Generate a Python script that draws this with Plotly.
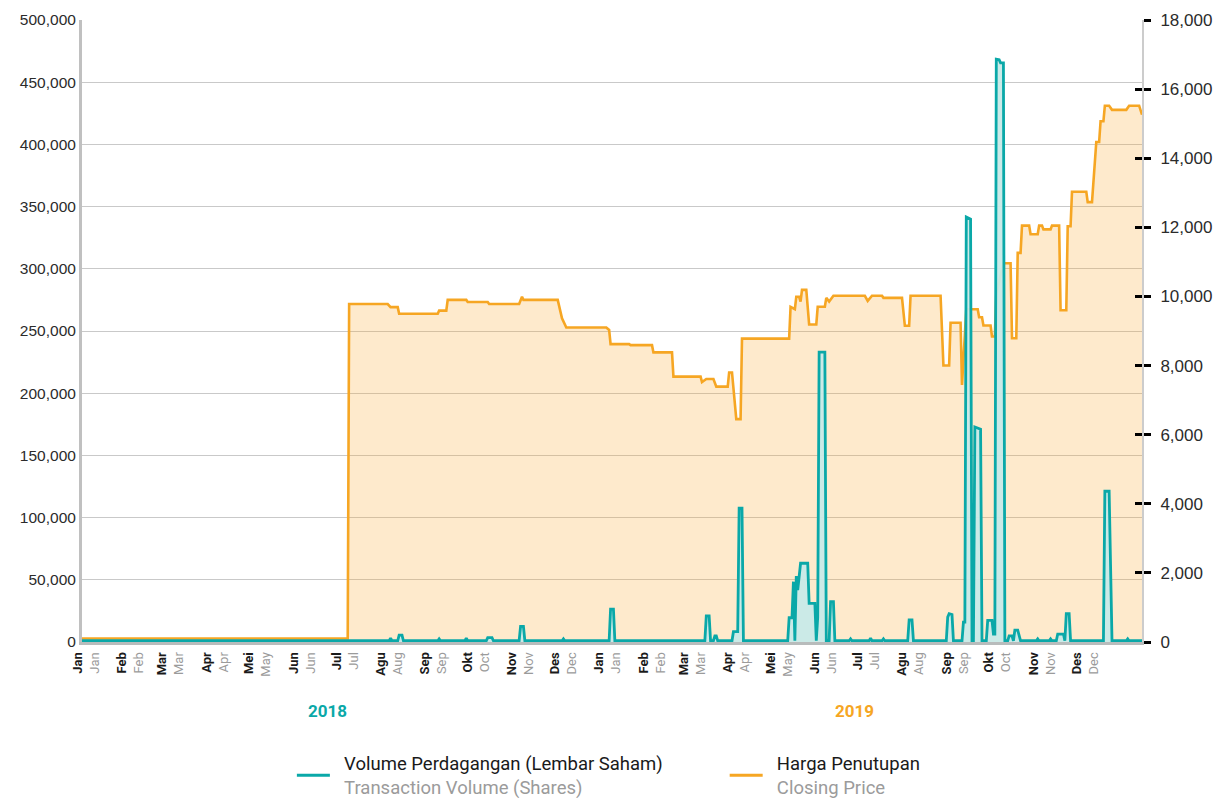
import plotly.graph_objects as go

# ---------------- data ----------------
price_dates = [
    "2017-12-29", "2018-07-03", "2018-07-04", "2018-07-31", "2018-08-02", "2018-08-07",
    "2018-08-08", "2018-09-04", "2018-09-05", "2018-09-10", "2018-09-11", "2018-09-24",
    "2018-09-25", "2018-10-09", "2018-10-10", "2018-10-31", "2018-11-02", "2018-11-03",
    "2018-11-27", "2018-11-30", "2018-12-03", "2018-12-31", "2019-01-02", "2019-01-03",
    "2019-01-16", "2019-01-17", "2019-02-01", "2019-02-02", "2019-02-15", "2019-02-16",
    "2019-03-07", "2019-03-08", "2019-03-11", "2019-03-16", "2019-03-18", "2019-03-26",
    "2019-03-27", "2019-03-29", "2019-04-01", "2019-04-04", "2019-04-05", "2019-05-08",
    "2019-05-09", "2019-05-12", "2019-05-13", "2019-05-15", "2019-05-16", "2019-05-17",
    "2019-05-20", "2019-05-22", "2019-05-27", "2019-05-28", "2019-06-02", "2019-06-03",
    "2019-06-05", "2019-06-08", "2019-06-30", "2019-07-02", "2019-07-05", "2019-07-12",
    "2019-07-13", "2019-07-26", "2019-07-28", "2019-07-31", "2019-08-01", "2019-08-22",
    "2019-08-24", "2019-08-28", "2019-08-29", "2019-09-05", "2019-09-06", "2019-09-09",
    "2019-09-17", "2019-09-18", "2019-09-20", "2019-09-21", "2019-09-26", "2019-09-27",
    "2019-09-29", "2019-09-30", "2019-10-05", "2019-10-10", "2019-10-11", "2019-10-14",
    "2019-10-15", "2019-10-17", "2019-10-18", "2019-10-23", "2019-10-24", "2019-10-29",
    "2019-10-30", "2019-11-01", "2019-11-02", "2019-11-07", "2019-11-08", "2019-11-13",
    "2019-11-14", "2019-11-18", "2019-11-19", "2019-11-21", "2019-11-22", "2019-12-02",
    "2019-12-03", "2019-12-06", "2019-12-09", "2019-12-11", "2019-12-12", "2019-12-14",
    "2019-12-15", "2019-12-18", "2019-12-20", "2019-12-30", "2020-01-01", "2020-01-08",
    "2020-01-10",
]
price_values = [
    100, 100, 9780, 9780, 9690, 9690,
    9500, 9500, 9590, 9590, 9900, 9900,
    9840, 9840, 9780, 9780, 9990, 9900,
    9900, 9370, 9100, 9100, 9030, 8620,
    8620, 8590, 8590, 8380, 8380, 7680,
    7680, 7520, 7610, 7610, 7390, 7390,
    7800, 7800, 6450, 6450, 8780, 8780,
    9700, 9630, 9990, 9990, 9850, 10190,
    10190, 9190, 9190, 9700, 9700, 9960,
    9850, 10020, 10020, 9870, 10020, 10020,
    9960, 9960, 9150, 9150, 10020, 10020,
    8000, 8000, 9240, 9240, 7440, 9630,
    9630, 9400, 9400, 9160, 9160, 8840,
    8840, 10080, 10960, 10960, 8790, 8790,
    11260, 11260, 12050, 12050, 11800, 11800,
    12050, 12050, 11940, 11940, 12050, 12050,
    9600, 9600, 12030, 12030, 13030, 13030,
    12730, 12730, 14470, 14470, 15070, 15070,
    15520, 15520, 15400, 15400, 15520, 15520,
    15260,
]

volume_dates = [
    "2017-12-29", "2018-08-01", "2018-08-02", "2018-08-03", "2018-08-07", "2018-08-08",
    "2018-08-10", "2018-08-11", "2018-09-04", "2018-09-05", "2018-09-06", "2018-09-23",
    "2018-09-24", "2018-09-25", "2018-10-08", "2018-10-09", "2018-10-12", "2018-10-13",
    "2018-10-31", "2018-11-01", "2018-11-03", "2018-11-04", "2018-11-30", "2018-12-01",
    "2018-12-02", "2019-01-02", "2019-01-03", "2019-01-05", "2019-01-06", "2019-03-10",
    "2019-03-11", "2019-03-13", "2019-03-14", "2019-03-16", "2019-03-17", "2019-03-18",
    "2019-03-19", "2019-03-29", "2019-03-30", "2019-04-02", "2019-04-03", "2019-04-05",
    "2019-04-06", "2019-05-07", "2019-05-08", "2019-05-10", "2019-05-11", "2019-05-12",
    "2019-05-13", "2019-05-14", "2019-05-16", "2019-05-21", "2019-05-22", "2019-05-26",
    "2019-05-27", "2019-05-28", "2019-05-29", "2019-06-02", "2019-06-03", "2019-06-05",
    "2019-06-06", "2019-06-08", "2019-06-09", "2019-06-19", "2019-06-20", "2019-06-21",
    "2019-07-03", "2019-07-04", "2019-07-05", "2019-07-12", "2019-07-13", "2019-07-14",
    "2019-07-30", "2019-07-31", "2019-08-02", "2019-08-03", "2019-08-26", "2019-08-27",
    "2019-08-28", "2019-08-30", "2019-08-31", "2019-09-06", "2019-09-07", "2019-09-08",
    "2019-09-09", "2019-09-12", "2019-09-13", "2019-09-14", "2019-09-15", "2019-09-17",
    "2019-09-19", "2019-09-20", "2019-09-23", "2019-09-24", "2019-09-27", "2019-09-28",
    "2019-09-29", "2019-09-30", "2019-10-02", "2019-10-03", "2019-10-05", "2019-10-06",
    "2019-10-08", "2019-10-09", "2019-10-11", "2019-10-12", "2019-10-13", "2019-10-15",
    "2019-10-16", "2019-10-17", "2019-10-28", "2019-10-29", "2019-10-30", "2019-11-06",
    "2019-11-07", "2019-11-08", "2019-11-11", "2019-11-12", "2019-11-16", "2019-11-17",
    "2019-11-18", "2019-11-20", "2019-11-21", "2019-12-14", "2019-12-15", "2019-12-18",
    "2019-12-20", "2019-12-30", "2019-12-31", "2020-01-01", "2020-01-10",
]
volume_values = [
    1000, 1000, 3000, 1000, 1000, 5500,
    5500, 1000, 1000, 2500, 1000, 1000,
    3000, 1000, 1000, 3500, 3500, 1000,
    1000, 12500, 12500, 1000, 1000, 2500,
    1000, 1000, 26500, 26500, 1000, 1000,
    21000, 21000, 1000, 1000, 5000, 5000,
    1000, 1000, 8300, 8300, 107500, 107500,
    1000, 1000, 19500, 19500, 48500, 1000,
    53000, 41800, 63300, 63300, 31100, 31100,
    1000, 20000, 233000, 233000, 1000, 1000,
    32400, 32400, 1000, 1000, 2500, 1000,
    1000, 3000, 1000, 1000, 2500, 1000,
    1000, 17700, 17700, 1000, 1000, 20000,
    22700, 22000, 1000, 1000, 16000, 16000,
    341700, 340000, 1000, 1000, 172800, 172000,
    171000, 1000, 1000, 17400, 17400, 6400,
    6400, 468500, 468000, 465500, 465500, 1000,
    1000, 5000, 5000, 1000, 9600, 9600,
    4000, 1000, 1000, 2500, 1000, 1000,
    2500, 1000, 1000, 6400, 6400, 1000,
    22700, 22700, 1000, 1000, 121200, 121200,
    1000, 1000, 2500, 1000, 1000,
]

month_ticks = [
    "2018-01-01", "2018-02-01", "2018-03-01", "2018-04-01", "2018-05-01", "2018-06-01",
    "2018-07-01", "2018-08-01", "2018-09-01", "2018-10-01", "2018-11-01", "2018-12-01",
    "2019-01-01", "2019-02-01", "2019-03-01", "2019-04-01", "2019-05-01", "2019-06-01",
    "2019-07-01", "2019-08-01", "2019-09-01", "2019-10-01", "2019-11-01", "2019-12-01",
]
months_id = ["Jan", "Feb", "Mar", "Apr", "Mei", "Jun", "Jul", "Agu", "Sep", "Okt", "Nov", "Des"] * 2
months_en = ["Jan", "Feb", "Mar", "Apr", "May", "Jun", "Jul", "Aug", "Sep", "Oct", "Nov", "Dec"] * 2

volume_ticks = [0, 50000, 100000, 150000, 200000, 250000, 300000, 350000, 400000, 450000, 500000]
price_ticks = [0, 2000, 4000, 6000, 8000, 10000, 12000, 14000, 16000, 18000]

name_volume = "Volume Perdagangan (Lembar Saham)"
name_volume_en = "Transaction Volume (Shares)"
name_price = "Harga Penutupan"
name_price_en = "Closing Price"
year_labels = ["2018", "2019"]

# ---------------- style ----------------
TEAL = "#0aa8a8"
ORANGE = "#f6a623"
GREY_TXT = "#9b9b9b"
FONT = "Roboto, 'Liberation Sans', Arial, sans-serif"
NUMFONT = "'Liberation Sans', Arial, sans-serif"
PAD = "\u00a0\u00a0"

ticktext = [f"<b>{a}</b><br><span style='color:{GREY_TXT}'>{b}</span>" for a, b in zip(months_id, months_en)]

fig = go.Figure()

fig.add_trace(go.Scatter(
    x=price_dates, y=price_values, mode="lines", yaxis="y",
    line=dict(color=ORANGE, width=2.6), fill="tozeroy",
    fillcolor="rgba(249,167,40,0.24)", showlegend=False, hoverinfo="x+y",
))
fig.add_trace(go.Scatter(
    x=volume_dates, y=volume_values, mode="lines", yaxis="y2",
    line=dict(color=TEAL, width=2.8), fill="tozeroy",
    fillcolor="rgba(200,234,232,0.95)", showlegend=False, hoverinfo="x+y",
))
# helper trace so the inner-tick axis is drawn
fig.add_trace(go.Scatter(
    x=[price_dates[0]], y=[0], mode="lines", yaxis="y3",
    line=dict(width=0), showlegend=False, hoverinfo="skip",
))
# legend entries
fig.add_trace(go.Scatter(
    x=[None], y=[None], mode="lines", line=dict(color=TEAL, width=3), legend="legend",
    name=f"{PAD}{name_volume}<br>{PAD}<span style='color:{GREY_TXT}'>{name_volume_en}</span>",
))
fig.add_trace(go.Scatter(
    x=[None], y=[None], mode="lines", line=dict(color=ORANGE, width=3), legend="legend2",
    name=f"{PAD}{name_price}<br>{PAD}<span style='color:{GREY_TXT}'>{name_price_en}</span>",
))

legend_common = dict(
    xanchor="left", yanchor="top", y=-0.165,
    font=dict(size=18.5, color="#1a1a1a", family=FONT),
    itemwidth=33, valign="middle", bgcolor="rgba(0,0,0,0)", borderwidth=0,
)

fig.update_layout(
    width=1228, height=798,
    margin=dict(l=82, r=86, t=20, b=156, autoexpand=False),
    paper_bgcolor="white", plot_bgcolor="white",
    font=dict(family=FONT, color="#2b2b2b"),
    xaxis=dict(
        type="date", range=["2017-12-29", "2020-01-10"],
        tickmode="array", tickvals=month_ticks, ticktext=ticktext,
        tickangle=-90, tickfont=dict(size=13, color="#1a1a1a", family=FONT),
        showgrid=False, zeroline=False, showline=True, linecolor="#b8bcbc", linewidth=3,
        ticks="", ticklabelstandoff=2,
    ),
    yaxis=dict(
        side="right", range=[0, 18000], tickmode="array", tickvals=price_ticks,
        tickformat=",", showgrid=False, zeroline=False,
        showline=True, linecolor="#cccccc", linewidth=2,
        ticks="outside", ticklen=7, tickwidth=3, tickcolor="#000000",
        tickfont=dict(size=17, color="#2b2b2b", family=NUMFONT),
        ticklabelstandoff=6,
    ),
    yaxis3=dict(
        overlaying="y", side="right", anchor="x", range=[0, 18000],
        tickmode="array", tickvals=price_ticks, showticklabels=False,
        showgrid=False, zeroline=False, showline=False,
        ticks="inside", ticklen=7, tickwidth=3, tickcolor="#000000",
    ),
    yaxis2=dict(
        overlaying="y", side="left", anchor="x", range=[0, 500000],
        tickmode="array", tickvals=volume_ticks, tickformat=",",
        showgrid=True, gridcolor="#c9c9c9", gridwidth=1, zeroline=False,
        showline=True, linecolor="#c0c0c0", linewidth=3, ticks="",
        tickfont=dict(size=15.5, color="#2b2b2b", family=NUMFONT),
    ),
    legend=dict(x=0.198, **legend_common),
    legend2=dict(x=0.6063, **legend_common),
    annotations=[
        dict(text=f"<b>{year_labels[0]}</b>", x=0.232, y=-0.111, xref="paper", yref="paper",
             xanchor="center", yanchor="middle",
             showarrow=False, font=dict(size=17, color=TEAL, family=FONT)),
        dict(text=f"<b>{year_labels[1]}</b>", x=0.729, y=-0.111, xref="paper", yref="paper",
             xanchor="center", yanchor="middle",
             showarrow=False, font=dict(size=17, color=ORANGE, family=FONT)),
    ],
)

fig.write_html("out.html", config={"displayModeBar": False},
               post_script="document.body.style.margin='0px';")
